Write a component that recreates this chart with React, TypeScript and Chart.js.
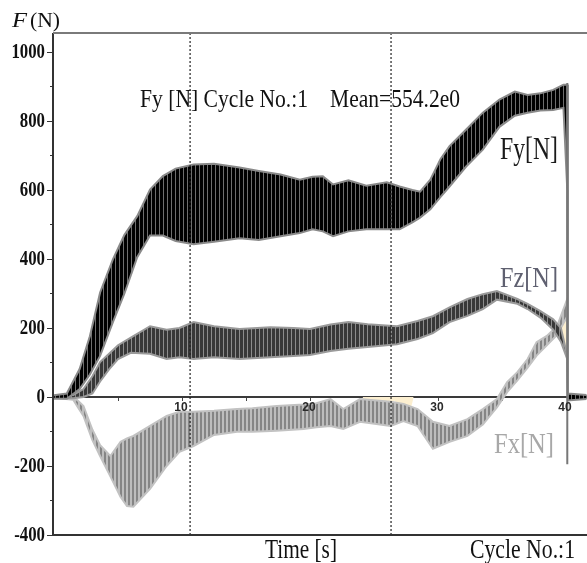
import React, { useEffect, useRef } from "react";
import { Chart, registerables } from "chart.js";

Chart.register(...registerables);

// ---------- data ----------
const fyTime = [0, 1, 2, 2.8, 3.6, 4.6, 5.5, 6.5, 7.5, 8.5, 9.5, 10.9, 12.5, 14.5, 16, 17.7, 19.2, 20.2, 21, 21.8, 23, 24.4, 26, 27, 28, 28.6, 29.4, 30.2, 30.9, 32.2, 33.5, 34.8, 36, 37, 38, 39, 39.8, 40.1, 40.15, 41.6];
const fyUpper = [5, 10, 81, 176, 303, 399, 470, 524, 601, 640, 662, 674, 676, 665, 655, 645, 630, 638, 640, 616, 628, 612, 622, 610, 600, 595, 630, 690, 727, 775, 824, 862, 885, 875, 880, 890, 905, 905, 10, 6];
const fyLower = [-5, -5, 23, 65, 119, 217, 300, 405, 468, 468, 452, 443, 450, 460, 455, 466, 475, 486, 480, 466, 480, 486, 486, 486, 506, 520, 544, 580, 610, 668, 717, 783, 815, 824, 830, 832, 838, 600, -10, -6];

const fzTime = [0, 1.5, 2.3, 3, 3.6, 4.3, 5, 6, 7.5, 8.8, 9.8, 10.9, 12.5, 14.5, 16.9, 18.7, 20, 21.6, 23, 24.5, 26.8, 28.4, 29.6, 30.9, 32.3, 33.5, 34.6, 36.2, 37, 38, 39, 39.6, 40.1, 40.15, 41.6];
const fzUpper = [3, 6, 23, 60, 101, 125, 150, 172, 205, 195, 200, 217, 205, 197, 202, 200, 197, 210, 217, 211, 205, 220, 234, 260, 284, 298, 307, 284, 270, 249, 225, 200, 119, 5, 3];
const fzLower = [-3, -4, 0, 10, 45, 80, 110, 128, 125, 110, 115, 110, 115, 110, 115, 119, 122, 133, 140, 145, 153, 168, 185, 217, 235, 255, 282, 270, 255, 230, 195, 160, 110, -5, -3];

const fxTime = [0, 1.5, 1.8, 2.3, 3, 3.6, 4.4, 5.2, 5.7, 6.2, 7.5, 8.8, 9.8, 10.9, 12.5, 14.3, 15.5, 17.4, 19.5, 20.5, 21.6, 22.6, 23.9, 26.3, 27.3, 28.4, 29.6, 30.9, 32.3, 33.5, 34.6, 35.4, 36.2, 37, 37.7, 38.5, 39.3, 40.1, 40.15, 41.6];
const fxUpper = [2, -3, -8, -26, -95, -140, -171, -130, -120, -113, -84, -55, -43, -43, -40, -35, -33, -26, -22, -18, -6, -35, -6, -14, -20, -35, -72, -84, -64, -35, -6, 43, 72, 110, 159, 177, 205, 284, 5, 3];
const fxLower = [-2, -8, -26, -55, -125, -171, -230, -290, -316, -318, -266, -200, -159, -142, -110, -101, -101, -98, -93, -88, -84, -93, -72, -84, -70, -84, -150, -130, -113, -80, -30, 14, 48, 85, 120, 150, 180, 234, -5, -3];

const creamTime = [24.1, 24.5, 26.0, 26.6, 27.0, 27.9, 28.1];
const creamValue = [0, -32, -32, -10, -30, -30, 0];
const cream2Time = [39.3, 40.1, 40.1, 39.3];
const cream2Value = [205, 290, 110, 205];

const markerTimes = [10.63, 26.33];
const cursorTime = 40.1;
const cursorRange = [910, -195];

const yTickValues = [1000, 800, 600, 400, 200, 0, -200, -400];
const yMinorValues = [900, 700, 500, 300, 100, -100, -300];
const xLabelValues = [10, 20, 30, 40];

const titleLeft = "Fy [N] Cycle No.:1";
const titleRight = "Mean=554.2e0";
const seriesNames = ["Fy[N]", "Fz[N]", "Fx[N]"];

// ---------- helpers ----------
const SERIF = '"Liberation Serif", "Times New Roman", serif';
const pts = (t: number[], v: number[]) => t.map((x, i) => ({ x, y: v[i] }));

function stripe(dark: string, light: string, period: number, darkW: number) {
  const c = document.createElement("canvas");
  c.width = period;
  c.height = 1;
  const g = c.getContext("2d")!;
  g.fillStyle = light;
  g.fillRect(0, 0, period, 1);
  g.fillStyle = dark;
  g.fillRect(0, 0, darkW, 1);
  return g.createPattern(c, "repeat");
}

function fitText(ctx: CanvasRenderingContext2D, text: string, x: number, base: number, size: number, width: number, color: string, style = "") {
  ctx.save();
  ctx.font = `${style} ${size}px ${SERIF}`;
  const w = ctx.measureText(text).width;
  ctx.translate(x, base);
  ctx.scale(width / w, 1);
  ctx.fillStyle = color;
  ctx.textAlign = "left";
  ctx.textBaseline = "alphabetic";
  ctx.fillText(text, 0, 0);
  ctx.restore();
}

const overlay = {
  id: "overlay",
  afterDraw(chart: any) {
    const ctx: CanvasRenderingContext2D = chart.ctx;
    const { left, right, bottom } = chart.chartArea;
    const ys = chart.scales.y;
    const xs = chart.scales.x;
    ctx.save();
    // frame
    ctx.lineWidth = 2;
    ctx.strokeStyle = "#7a7a7a";
    ctx.beginPath();
    ctx.moveTo(left, 33);
    ctx.lineTo(right, 33);
    ctx.stroke();
    ctx.strokeStyle = "#333";
    ctx.beginPath();
    ctx.moveTo(left, bottom);
    ctx.lineTo(right, bottom);
    ctx.stroke();
    // y ticks
    ctx.lineWidth = 1;
    ctx.strokeStyle = "#333";
    yTickValues.forEach((v) => {
      const p = Math.round(ys.getPixelForValue(v)) + 0.5;
      ctx.beginPath();
      ctx.moveTo(left - 6, p);
      ctx.lineTo(left, p);
      ctx.stroke();
    });
    yMinorValues.forEach((v) => {
      const p = Math.round(ys.getPixelForValue(v)) + 0.5;
      ctx.beginPath();
      ctx.moveTo(left - 3, p);
      ctx.lineTo(left, p);
      ctx.stroke();
    });
    // y labels
    yTickValues.forEach((v) => {
      const p = ys.getPixelForValue(v);
      ctx.save();
      ctx.font = `bold 21px ${SERIF}`;
      ctx.translate(left - 8, p + 1);
      ctx.scale(0.8, 1);
      ctx.textAlign = "right";
      ctx.textBaseline = "middle";
      ctx.fillStyle = "#111";
      ctx.fillText(String(v), 0, 0);
      ctx.restore();
    });
    // x labels (drawn over the bands, as in the reference)
    const zeroPx = ys.getPixelForValue(0);
    xLabelValues.forEach((v) => {
      ctx.save();
      ctx.font = 'bold 12px "Liberation Sans", Arial, sans-serif';
      ctx.fillStyle = "#2a2a2a";
      ctx.textAlign = "center";
      ctx.textBaseline = "top";
      ctx.fillText(String(v), xs.getPixelForValue(v) - 1, zeroPx + 5);
      ctx.restore();
    });
    // axis title F (N)
    fitText(ctx, "F", 12, 27, 22, 15, "#111", "italic");
    fitText(ctx, "(N)", 30, 27, 22, 30, "#111");
    // header text
    fitText(ctx, titleLeft, 140, 107, 26, 168, "#111");
    fitText(ctx, titleRight, 330, 107, 26, 130, "#111");
    // series labels
    fitText(ctx, seriesNames[0], 500, 159, 32, 58, "#1a1a1a");
    fitText(ctx, seriesNames[1], 500, 287, 30, 58, "#5f6070");
    fitText(ctx, seriesNames[2], 494, 453, 30, 60, "#a8a8a8");
    // bottom texts
    fitText(ctx, "Time [s]", 265, 558, 27, 72, "#111");
    fitText(ctx, "Cycle No.:1", 470, 558, 27, 105, "#111");
    ctx.restore();
  },
};

export default function App() {
  const ref = useRef<HTMLCanvasElement>(null);

  useEffect(() => {
    const canvas = ref.current!;
    const fyPat = stripe("#000000", "#6e6e6e", 4, 3);
    const fzPat = stripe("#383838", "#8c8c8c", 4, 3);
    const fxPat = stripe("#858585", "#bdbdbd", 4, 2);

    const band = (t: number[], up: number[], lo: number[], edge: string, pat: any) => [
      { data: pts(t, up), borderColor: edge, borderWidth: 2, fill: false, pointRadius: 0 },
      { data: pts(t, lo), borderColor: edge, borderWidth: 2, fill: "-1", backgroundColor: pat, pointRadius: 0 },
    ];

    const markers = markerTimes.map((m) => ({
      data: [{ x: m, y: -400 }, { x: m, y: 1052 }],
      borderColor: "#222",
      borderWidth: 1.2,
      borderDash: [2, 2],
      pointRadius: 0,
      fill: false,
    }));

    const chart = new Chart(canvas, {
      type: "line",
      data: {
        datasets: [
          ...markers,
          {
            data: [{ x: cursorTime, y: cursorRange[0] }, { x: cursorTime, y: cursorRange[1] }],
            borderColor: "#777",
            borderWidth: 2,
            pointRadius: 0,
            fill: false,
          },
          ...band(fyTime, fyUpper, fyLower, "#8a8a8a", fyPat),
          ...band(fzTime, fzUpper, fzLower, "#9a9a9a", fzPat),
          ...band(fxTime, fxUpper, fxLower, "#c2c2c2", fxPat),
          { data: pts(creamTime, creamValue), borderWidth: 0, borderColor: "rgba(0,0,0,0)", backgroundColor: "#fcefd0", fill: "origin", pointRadius: 0 },
          { data: pts(cream2Time, cream2Value), borderWidth: 0, borderColor: "rgba(0,0,0,0)", backgroundColor: "#fcefd0", fill: "shape", pointRadius: 0 },
        ] as any,
      },
      options: {
        responsive: false,
        animation: false,
        devicePixelRatio: 1,
        layout: { padding: { top: 34, bottom: 28, left: 0, right: 0 } },
        plugins: { legend: { display: false }, tooltip: { enabled: false }, title: { display: false } },
        elements: { line: { tension: 0 }, point: { radius: 0 } },
        scales: {
          x: {
            type: "linear",
            min: -0.08,
            max: 41.64,
            position: { y: 0 } as any,
            afterBuildTicks: (s: any) => {
              s.ticks = s.ticks.filter((t: any) => t.value >= 0 && t.value <= 40 && Math.abs(t.value % 5) < 1e-6);
            },
            grid: { drawOnChartArea: false, drawTicks: true, tickLength: 3, color: "#444" },
            border: { display: true, color: "#3a3a3a", width: 2 },
            ticks: {
              stepSize: 5,
              autoSkip: false,
              maxRotation: 0,
              padding: 1,
              font: { size: 12 },
              callback: () => "",
            },
          },
          y: {
            type: "linear",
            min: -400,
            max: 1052,
            afterFit: (s: any) => {
              s.width = 53;
            },
            grid: { drawOnChartArea: false, drawTicks: false },
            border: { display: true, color: "#333", width: 2 },
            ticks: { display: false, stepSize: 100 },
          },
        },
      },
      plugins: [overlay],
    });
    return () => chart.destroy();
  }, []);

  return (
    <div style={{ position: "absolute", left: 0, top: 0, width: 587, height: 563, background: "#fff" }}>
      <canvas ref={ref} width={587} height={563} style={{ width: 587, height: 563, display: "block" }} />
    </div>
  );
}
